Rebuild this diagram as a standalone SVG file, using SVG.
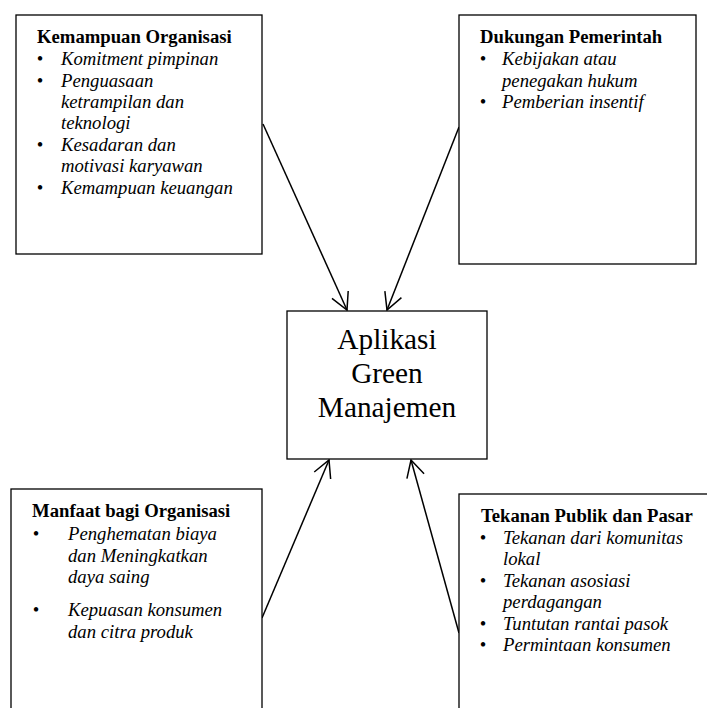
<svg xmlns="http://www.w3.org/2000/svg" width="707" height="708" viewBox="0 0 707 708">
<style>
.box{fill:#fff;stroke:#000;stroke-width:1.3}
.t{font-family:"Liberation Serif","Times New Roman",serif;font-size:18.7px;fill:#000}
.h{font-weight:bold}
.i{font-style:italic}
.b{text-anchor:middle}
.c{font-family:"Liberation Serif","Times New Roman",serif;font-size:29.3px;fill:#000;text-anchor:middle}
.ln{stroke:#000;stroke-width:1.5;fill:none;marker-end:url(#ah)}
</style>
<defs>
<marker id="ah" markerUnits="userSpaceOnUse" viewBox="0 0 22 20" markerWidth="22" markerHeight="20" refX="20" refY="10" orient="auto">
<path d="M3.2,1.1 L20,10 L3.2,18.9" fill="none" stroke="#000" stroke-width="1.5"/>
</marker>
</defs>
<rect width="707" height="708" fill="#fff"/>
<g id="connectors">
<line class="ln" x1="263" y1="124" x2="347" y2="310"/>
<line class="ln" x1="459" y1="127" x2="387" y2="310"/>
<line class="ln" x1="262" y1="618" x2="329" y2="460"/>
<line class="ln" x1="459" y1="633" x2="411" y2="460"/>
</g>
<g id="kemampuan">
<rect class="box" x="16" y="15" width="246" height="239"/>
<text class="t h" x="37" y="43">Kemampuan Organisasi</text>
<text class="t b" x="40" y="65">•</text>
<text class="t i" x="61" y="65">Komitment pimpinan</text>
<text class="t b" x="40" y="86.5">•</text>
<text class="t i" x="61" y="86.5">Penguasaan</text>
<text class="t i" x="61" y="107.5">ketrampilan dan</text>
<text class="t i" x="61" y="128.5">teknologi</text>
<text class="t b" x="40" y="150.5">•</text>
<text class="t i" x="61" y="150.5">Kesadaran dan</text>
<text class="t i" x="61" y="172">motivasi karyawan</text>
<text class="t b" x="40" y="193.5">•</text>
<text class="t i" x="61" y="193.5">Kemampuan keuangan</text>
</g>
<g id="dukungan">
<rect class="box" x="459" y="15" width="237" height="249"/>
<text class="t h" x="480" y="43">Dukungan Pemerintah</text>
<text class="t b" x="483" y="65">•</text>
<text class="t i" x="502" y="65">Kebijakan atau</text>
<text class="t i" x="502" y="86.5">penegakan hukum</text>
<text class="t b" x="483" y="108">•</text>
<text class="t i" x="502" y="108">Pemberian insentif</text>
</g>
<g id="aplikasi">
<rect class="box" x="287" y="311" width="200" height="148"/>
<text class="c" x="387" y="349.3">Aplikasi</text>
<text class="c" x="387" y="383">Green</text>
<text class="c" x="387" y="416.7">Manajemen</text>
</g>
<g id="manfaat">
<rect class="box" x="11" y="489" width="251" height="240"/>
<text class="t h" x="32" y="517">Manfaat bagi Organisasi</text>
<text class="t b" x="36" y="540">•</text>
<text class="t i" x="68" y="540">Penghematan biaya</text>
<text class="t i" x="68" y="561.5">dan Meningkatkan</text>
<text class="t i" x="68" y="583">daya saing</text>
<text class="t b" x="36" y="616">•</text>
<text class="t i" x="68" y="616">Kepuasan konsumen</text>
<text class="t i" x="68" y="637.5">dan citra produk</text>
</g>
<g id="tekanan">
<rect class="box" x="459" y="494" width="260" height="240"/>
<text class="t h" x="481" y="522">Tekanan Publik dan Pasar</text>
<text class="t b" x="483" y="543.5">•</text>
<text class="t i" x="503" y="543.5">Tekanan dari komunitas</text>
<text class="t i" x="503" y="565">lokal</text>
<text class="t b" x="483" y="586.5">•</text>
<text class="t i" x="503" y="586.5">Tekanan asosiasi</text>
<text class="t i" x="503" y="608">perdagangan</text>
<text class="t b" x="483" y="629.5">•</text>
<text class="t i" x="503" y="629.5">Tuntutan rantai pasok</text>
<text class="t b" x="483" y="651">•</text>
<text class="t i" x="503" y="651">Permintaan konsumen</text>
</g>
</svg>
